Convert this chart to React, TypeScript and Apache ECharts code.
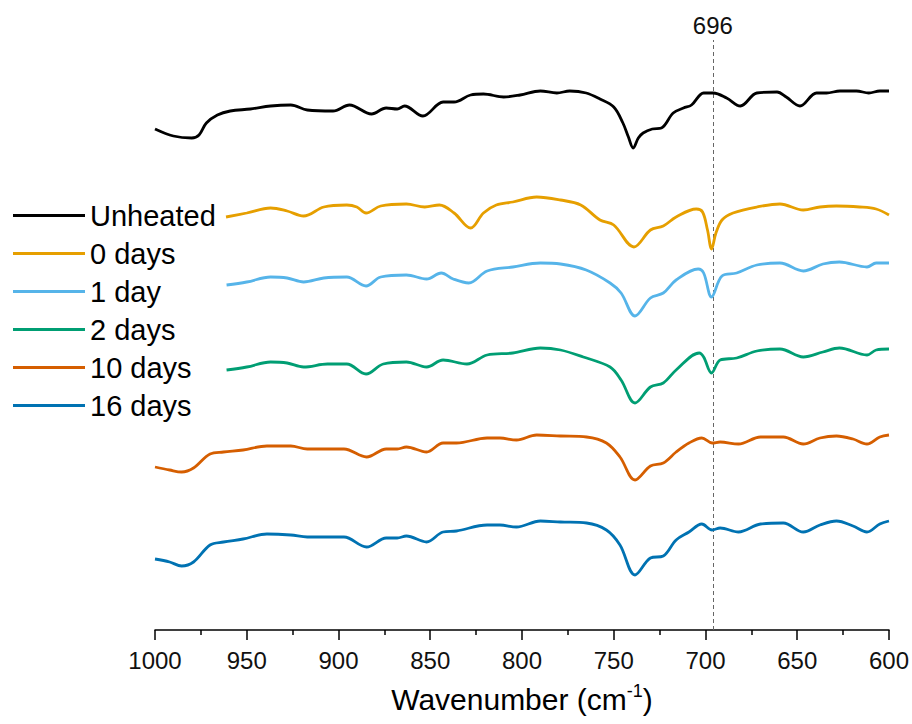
import React, { useEffect, useRef } from "react";
import * as echarts from "echarts";

// Wavenumber (cm-1), offset transmittance (arbitrary units, stacked)
const unheated: [number, number][] = [
  [1000, 5.01], [990, 4.94], [980, 4.92], [976, 4.95], [972, 5.07], [966, 5.15], [959, 5.19],
  [948, 5.21], [937, 5.24], [926, 5.25], [917, 5.2], [903, 5.19], [894, 5.25], [882, 5.16],
  [874, 5.22], [868, 5.21], [864, 5.24], [854, 5.14], [843, 5.28], [837, 5.28], [828, 5.35],
  [821, 5.36], [810, 5.33], [801, 5.35], [790, 5.39], [781, 5.37], [774, 5.39], [765, 5.37],
  [757.5, 5.31], [750, 5.23], [745, 5.07], [742, 4.93], [739.4, 4.82], [736.6, 4.92], [734, 4.97],
  [729, 5.01], [724, 5.02], [717.6, 5.17], [712, 5.22], [707.6, 5.25], [701, 5.37], [695.8, 5.37],
  [688.5, 5.32], [681, 5.24], [672, 5.37], [661, 5.38], [656, 5.33], [648.5, 5.24], [639.5, 5.37],
  [634, 5.37], [626.7, 5.39], [617.7, 5.39], [611, 5.37], [605, 5.39], [600, 5.39],
];

const days0: [number, number][] = [
  [961.3, 4.13], [950, 4.17], [937, 4.22], [928, 4.19], [919, 4.14], [908, 4.23], [895.5, 4.25],
  [890, 4.23], [885, 4.17], [877, 4.24], [863, 4.26], [853, 4.23], [845, 4.25], [837, 4.17],
  [828, 4.02], [821, 4.17], [814, 4.25], [805, 4.28], [792, 4.33], [779, 4.3], [768, 4.25],
  [757.5, 4.1], [750, 4.05], [739, 3.83], [730, 4.0], [723, 4.04], [716, 4.13], [705, 4.21],
  [701.6, 4.18], [698.9, 4.0], [696.7, 3.81], [694.3, 3.97], [691, 4.1], [685, 4.17], [672, 4.23],
  [659.4, 4.26], [646.7, 4.2], [637.6, 4.23], [628.6, 4.24], [616, 4.23], [607, 4.21], [600, 4.15],
];

const day1: [number, number][] = [
  [961, 3.45], [950, 3.48], [937, 3.53], [928, 3.52], [919, 3.48], [908, 3.52], [895.5, 3.53],
  [885, 3.44], [877, 3.53], [863, 3.55], [852, 3.51], [844, 3.57], [837.5, 3.51], [829, 3.47],
  [819, 3.59], [805, 3.63], [790, 3.67], [779, 3.66], [765, 3.6], [752, 3.47], [746, 3.37],
  [738.4, 3.14], [730, 3.32], [723, 3.37], [716, 3.5], [704, 3.61], [701, 3.57], [696.7, 3.33],
  [691, 3.54], [683, 3.57], [672, 3.65], [659.4, 3.67], [646.7, 3.59], [636, 3.66], [627, 3.68],
  [612, 3.63], [607, 3.67], [600, 3.67],
];

const days2: [number, number][] = [
  [961, 2.6], [950, 2.63], [937, 2.68], [928, 2.67], [919, 2.63], [906, 2.66], [895.5, 2.66],
  [885, 2.56], [875.6, 2.66], [863, 2.68], [852, 2.63], [843, 2.7], [830, 2.66], [819, 2.75],
  [805, 2.77], [790, 2.82], [779, 2.8], [766.6, 2.73], [752, 2.63], [746, 2.5], [738.4, 2.27],
  [730, 2.43], [723, 2.47], [716, 2.6], [703.4, 2.77], [701, 2.73], [696.7, 2.57], [692, 2.7],
  [683, 2.72], [672, 2.79], [659.4, 2.81], [646.7, 2.73], [636, 2.78], [627, 2.82], [612, 2.75],
  [607, 2.8], [600, 2.81],
];

const days10: [number, number][] = [
  [1000, 1.63], [992, 1.6], [985.5, 1.58], [979, 1.62], [970, 1.76], [962.7, 1.78], [952, 1.8],
  [939, 1.84], [926, 1.84], [917, 1.81], [897, 1.81], [884.7, 1.73], [874, 1.81], [868, 1.81],
  [863, 1.83], [852, 1.78], [843, 1.87], [835.7, 1.87], [819, 1.92], [812, 1.92], [803, 1.9],
  [792, 1.95], [779, 1.94], [764.8, 1.93], [754, 1.87], [746.6, 1.73], [738.4, 1.5], [730, 1.64],
  [723, 1.67], [716, 1.78], [709, 1.87], [702, 1.92], [696.4, 1.87], [692, 1.88], [682, 1.86],
  [670, 1.93], [657.6, 1.93], [646.7, 1.86], [637.6, 1.92], [628.6, 1.94], [619.6, 1.91],
  [612, 1.86], [605, 1.93], [600, 1.95],
];

const days16: [number, number][] = [
  [1000, 0.71], [992, 0.68], [985.5, 0.64], [979, 0.68], [970, 0.85], [962.7, 0.88], [952, 0.91],
  [939, 0.96], [926, 0.95], [917, 0.93], [897, 0.93], [884.7, 0.83], [874, 0.92], [868, 0.92],
  [863, 0.94], [852, 0.88], [843, 0.98], [835.7, 0.99], [819, 1.05], [812, 1.05], [803, 1.03],
  [790, 1.09], [779, 1.08], [764.8, 1.07], [754, 1.0], [746.6, 0.85], [738.4, 0.55], [730, 0.72],
  [723, 0.74], [716, 0.9], [709, 0.98], [702, 1.06], [696.4, 1.0], [692, 1.02], [682, 0.98],
  [670, 1.06], [657.6, 1.07], [646.7, 0.98], [637.6, 1.05], [628.6, 1.09], [619.6, 1.04],
  [612, 0.98], [605, 1.06], [600, 1.09],
];

const seriesNames = ["Unheated", "0 days", "1 day", "2 days", "10 days", "16 days"];
const seriesData = [unheated, days0, day1, days2, days10, days16];
const seriesColors = ["#000000", "#E69F00", "#56B4E9", "#009E73", "#D55E00", "#0072B2"];
const markerWavenumber = 696;

const FONT = "'Liberation Sans', Arial, Helvetica, sans-serif";

export default function App() {
  const ref = useRef<HTMLDivElement>(null);
  useEffect(() => {
    if (!ref.current) return;
    const chart = echarts.init(ref.current, null, { renderer: "svg" });
    const series: any[] = seriesNames.map((name, i) => ({
      name,
      type: "line",
      data: seriesData[i],
      smooth: 0.35,
      showSymbol: false,
      symbol: "none",
      lineStyle: { color: seriesColors[i], width: 2.8 },
      itemStyle: { color: seriesColors[i] },
      z: 10 - i,
    }));
    series[0].markLine = {
      silent: true,
      symbol: ["none", "none"],
      lineStyle: { color: "#666", width: 1, type: [4, 3] },
      label: {
        show: true,
        position: "end",
        formatter: String(markerWavenumber),
        fontSize: 24,
        fontFamily: FONT,
        color: "#111",
        distance: 3,
      },
      data: [{ xAxis: markerWavenumber }],
    };
    chart.setOption({
      animation: false,
      backgroundColor: "#ffffff",
      textStyle: { fontFamily: FONT },
      grid: { left: 155, right: 23, top: 40, bottom: 94 },
      legend: {
        orient: "vertical",
        left: 8,
        top: 196,
        icon: "rect",
        itemWidth: 72,
        itemHeight: 3,
        itemGap: 9,
        data: seriesNames,
        textStyle: {
          fontSize: 29,
          lineHeight: 28,
          color: "#000",
          fontFamily: FONT,
        },
      },
      xAxis: {
        type: "value",
        min: 600,
        max: 1000,
        interval: 50,
        inverse: true,
        name: "Wavenumber (cm{sup|-1})",
        nameLocation: "middle",
        nameGap: 52,
        nameTextStyle: {
          fontSize: 30,
          color: "#000",
          fontFamily: FONT,
          lineHeight: 34,
          rich: {
            sup: { fontSize: 18, verticalAlign: "top", lineHeight: 20, color: "#000", fontFamily: FONT },
          },
        },
        axisLine: { show: true, lineStyle: { color: "#000", width: 1.5 } },
        axisTick: { show: true, inside: false, length: 10, lineStyle: { color: "#000", width: 1.5 } },
        minorTick: { show: true, splitNumber: 2, length: 5, lineStyle: { color: "#000", width: 1.5 } },
        axisLabel: {
          fontSize: 24,
          color: "#111",
          margin: 18,
          fontFamily: FONT,
          formatter: (v: number) => String(v),
        },
        splitLine: { show: false },
      },
      yAxis: {
        type: "value",
        min: 0,
        max: 5.9,
        show: false,
        splitLine: { show: false },
      },
      series,
    });
    return () => chart.dispose();
  }, []);
  return (
    <div
      ref={ref}
      style={{ position: "fixed", left: 0, top: 0, width: 912, height: 724, background: "#fff" }}
    />
  );
}
